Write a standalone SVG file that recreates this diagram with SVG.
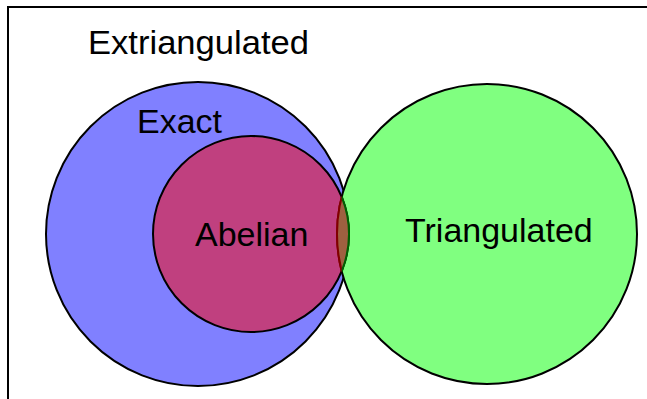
<svg xmlns="http://www.w3.org/2000/svg" width="647" height="399" viewBox="0 0 647 399">
  <style>
    .lbl { font-family: "Liberation Sans", Arial, sans-serif; font-size: 34px; fill: #000; }
    .c { stroke: #000; stroke-width: 2; }
  </style>
  <defs>
    <clipPath id="clipGreen"><circle cx="487" cy="234" r="150"/></clipPath>
    <clipPath id="clipRed"><circle cx="251" cy="234" r="98"/></clipPath>
  </defs>
  <rect x="8" y="7" width="660" height="420" fill="#fff" stroke="#000" stroke-width="2"/>
  <g id="extriangulated">
    <text class="lbl" x="88" y="54" textLength="221" lengthAdjust="spacingAndGlyphs">Extriangulated</text>
  </g>
  <g id="exact">
    <circle class="c" cx="198" cy="234" r="152" fill="#8080ff"/>
    <text class="lbl" x="137" y="133">Exact</text>
  </g>
  <g id="triangulated">
    <circle class="c" cx="487" cy="234" r="150" fill="#80ff80"/>
  </g>
  <g id="abelian">
    <circle class="c" cx="251" cy="234" r="98" fill="#ff0000" fill-opacity="0.5"/>
    <circle cx="251" cy="234" r="98" fill="#9f6040" stroke="none" clip-path="url(#clipGreen)"/>
    <circle cx="487" cy="234" r="150" fill="none" stroke="#800000" stroke-width="2" clip-path="url(#clipRed)"/>
    <circle cx="251" cy="234" r="98" fill="none" stroke="#006000" stroke-width="2" clip-path="url(#clipGreen)"/>
    <text class="lbl" x="195" y="246">Abelian</text>
  </g>
  <g id="triangulated-label">
    <text class="lbl" x="405" y="242">Triangulated</text>
  </g>
</svg>
